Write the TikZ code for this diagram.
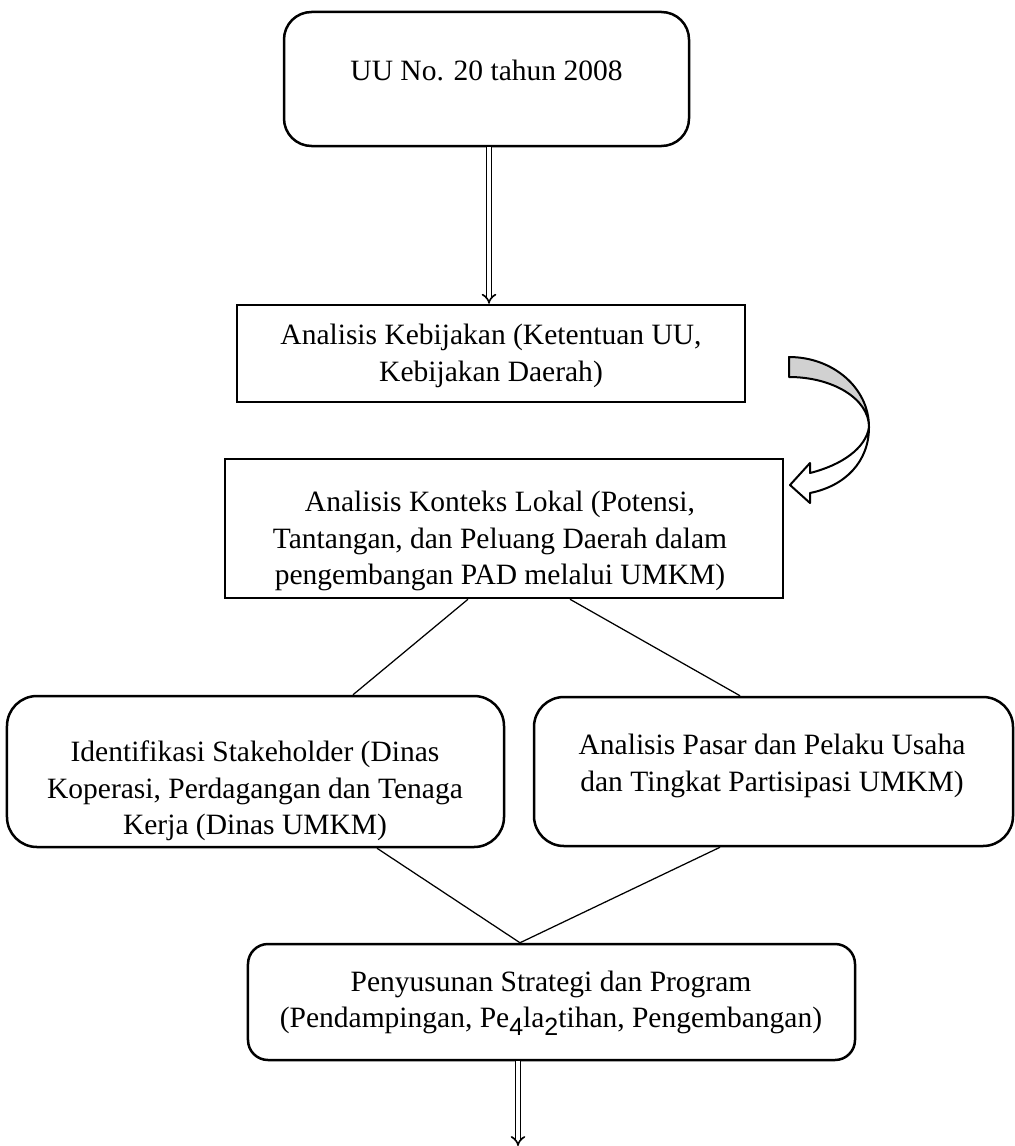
\documentclass[tikz,border=0pt]{standalone}
\usepackage{fontspec}
\setmainfont{Liberation Serif}
\newfontfamily\subsans{Liberation Sans}
\usetikzlibrary{arrows.meta,calc}
\newcommand\lowdigit[1]{\raisebox{-2.8pt}{\fontsize{10}{10}\selectfont\subsans #1}}
\begin{document}
\begin{tikzpicture}[x=0.4pt,y=-0.4pt,
  font=\fontsize{11.8}{14.6}\selectfont,
  rbox/.style={draw,line width=1pt,rounded corners=11pt,inner sep=0pt},
  sbox/.style={draw,line width=1pt,inner sep=0pt},
  txt/.style={align=center,inner sep=0pt},
  thinline/.style={line width=0.5pt},
  dbl/.style={double,double distance=1.3pt,line width=0.65pt,-{Implies[]}},
  bandarrow/.style={line width=0.8pt,line join=round}]
\useasboundingbox (0,0) rectangle (1014,1146);

% boxes
\node[rbox,minimum width=162pt,minimum height=53.6pt] (box1) at (486.5,79) {};
\node[txt] (t1) at (486.5,70) {UU No. 20 tahun 2008};

\node[sbox,minimum width=203.2pt,minimum height=38.8pt] (box2) at (491,353.5) {};
\node[txt] (t2) at (491,356) {Analisis Kebijakan (Ketentuan UU,\\Kebijakan Daerah)};

\node[sbox,minimum width=223.2pt,minimum height=55.6pt] (box3) at (504,528.5) {};
\node[txt] (t3) at (500,541) {Analisis Konteks Lokal (Potensi,\\Tantangan, dan Peluang Daerah dalam\\pengembangan PAD melalui UMKM)};

\node[rbox,rounded corners=12pt,minimum width=198.8pt,minimum height=60.4pt] (box4) at (255.5,771.5) {};
\node[txt] (t4) at (255,791) {Identifikasi Stakeholder (Dinas\\Koperasi, Perdagangan dan Tenaga\\Kerja (Dinas UMKM)};

\node[rbox,rounded corners=12pt,minimum width=191.6pt,minimum height=59.6pt] (box5) at (773.5,771.5) {};
\node[txt] (t5) at (772,766) {Analisis Pasar dan Pelaku Usaha\\dan Tingkat Partisipasi UMKM)};

\node[rbox,rounded corners=8pt,minimum width=242.8pt,minimum height=46.4pt] (box6) at (551.5,1002) {};
\node[txt] (t6) at (551,1003) {Penyusunan Strategi dan Program\\(Pendampingan, Pe\lowdigit{4}la\lowdigit{2}tihan, Pengembangan)};

% double arrows
\draw[dbl] (489,0 |- box1.south) -- (489,0 |- box2.north);
\coordinate (endpt) at (518,1146);
\draw[dbl] (518,0 |- box6.south) -- (endpt);

% thin connectors
\draw[thinline] (468,0 |- box3.south) -- (353,0 |- box4.north);
\draw[thinline] (570,0 |- box3.south) -- (740,0 |- box5.north);
\draw[thinline] (377,0 |- box4.south) -- (520,0 |- box6.north);
\draw[thinline] (720,0 |- box5.south) -- (520,0 |- box6.north);

% curved block arrow from box2 to box3
\filldraw[bandarrow,fill=black!18] (789,357) .. controls (833,357) and (869,388) .. (869,427)
  .. controls (869,399) and (833,377) .. (789,377) -- cycle;
\filldraw[bandarrow,fill=white] (869,427) .. controls (869,462) and (845,486) .. (810,493)
  -- (810,503) -- (790,485) -- (810,463) -- (810,473)
  .. controls (842,465) and (866,448) .. (869,427) -- cycle;
\end{tikzpicture}
\end{document}
